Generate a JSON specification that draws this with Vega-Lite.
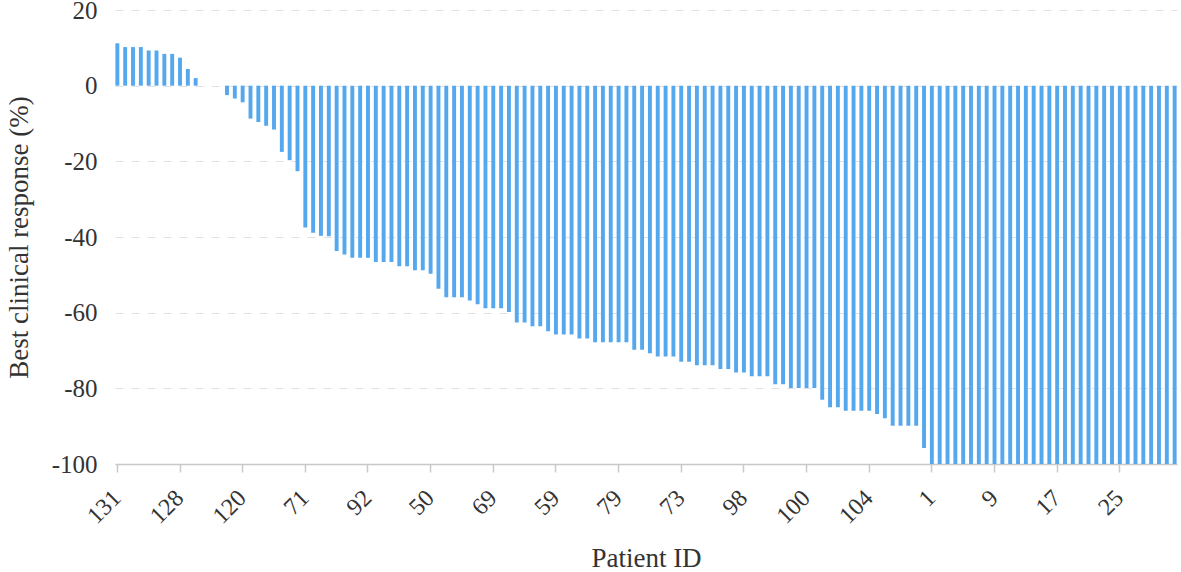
{
  "$schema": "https://vega.github.io/schema/vega-lite/v6.json",
  "width": 1062,
  "height": 454,
  "autosize": "none",
  "padding": {"left": 115, "top": 10, "right": 4, "bottom": 108},
  "background": "white",
  "config": {
    "view": {"stroke": null},
    "font": "Liberation Serif",
    "axis": {"labelFont": "Liberation Serif", "titleFont": "Liberation Serif"}
  },
  "data": {
    "values": [
      {"id": "131", "value": 11.2}, {"id": "136", "value": 10.2}, {"id": "135", "value": 10.2}, {"id": "134", "value": 10.2},
      {"id": "133", "value": 9.3}, {"id": "132", "value": 9.3}, {"id": "130", "value": 8.4}, {"id": "129", "value": 8.4},
      {"id": "128", "value": 7.4}, {"id": "127", "value": 4.4}, {"id": "126", "value": 2}, {"id": "125", "value": 0},
      {"id": "124", "value": 0}, {"id": "123", "value": 0}, {"id": "122", "value": -2.5}, {"id": "121", "value": -3.4},
      {"id": "120", "value": -4.4}, {"id": "119", "value": -8.7}, {"id": "118", "value": -9.6}, {"id": "117", "value": -10.6},
      {"id": "116", "value": -11.6}, {"id": "115", "value": -17.5}, {"id": "114", "value": -19.7}, {"id": "113", "value": -22.6},
      {"id": "71", "value": -37.5}, {"id": "33", "value": -38.9}, {"id": "34", "value": -39.7}, {"id": "35", "value": -39.8},
      {"id": "36", "value": -43.7}, {"id": "37", "value": -44.6}, {"id": "38", "value": -45.5}, {"id": "39", "value": -45.5},
      {"id": "92", "value": -45.5}, {"id": "40", "value": -46.6}, {"id": "41", "value": -46.6}, {"id": "42", "value": -46.6},
      {"id": "43", "value": -47.7}, {"id": "44", "value": -47.7}, {"id": "45", "value": -48.8}, {"id": "46", "value": -48.8},
      {"id": "50", "value": -49.7}, {"id": "47", "value": -53.7}, {"id": "48", "value": -55.9}, {"id": "49", "value": -55.9},
      {"id": "51", "value": -55.9}, {"id": "52", "value": -56.8}, {"id": "53", "value": -57.8}, {"id": "54", "value": -58.8},
      {"id": "69", "value": -58.8}, {"id": "55", "value": -58.8}, {"id": "56", "value": -59.8}, {"id": "57", "value": -62.6},
      {"id": "58", "value": -62.6}, {"id": "60", "value": -63.6}, {"id": "61", "value": -63.6}, {"id": "62", "value": -64.9},
      {"id": "59", "value": -65.8}, {"id": "63", "value": -65.8}, {"id": "64", "value": -65.8}, {"id": "65", "value": -66.8},
      {"id": "66", "value": -66.8}, {"id": "67", "value": -67.8}, {"id": "68", "value": -67.8}, {"id": "70", "value": -67.8},
      {"id": "79", "value": -67.8}, {"id": "72", "value": -67.8}, {"id": "74", "value": -69.8}, {"id": "75", "value": -69.8},
      {"id": "76", "value": -70.7}, {"id": "77", "value": -71.6}, {"id": "78", "value": -71.6}, {"id": "80", "value": -71.6},
      {"id": "73", "value": -73.0}, {"id": "81", "value": -73.0}, {"id": "82", "value": -73.9}, {"id": "83", "value": -73.9},
      {"id": "84", "value": -73.9}, {"id": "85", "value": -74.9}, {"id": "86", "value": -74.9}, {"id": "87", "value": -75.8},
      {"id": "98", "value": -75.8}, {"id": "88", "value": -76.8}, {"id": "89", "value": -76.8}, {"id": "90", "value": -76.8},
      {"id": "91", "value": -78.9}, {"id": "93", "value": -78.9}, {"id": "94", "value": -79.9}, {"id": "95", "value": -79.9},
      {"id": "100", "value": -79.9}, {"id": "96", "value": -79.9}, {"id": "97", "value": -83.0}, {"id": "99", "value": -85.0},
      {"id": "101", "value": -85.0}, {"id": "102", "value": -85.9}, {"id": "103", "value": -85.9}, {"id": "105", "value": -85.9},
      {"id": "104", "value": -85.9}, {"id": "106", "value": -86.8}, {"id": "107", "value": -87.9}, {"id": "108", "value": -89.9},
      {"id": "109", "value": -89.9}, {"id": "110", "value": -89.9}, {"id": "111", "value": -89.9}, {"id": "112", "value": -95.8},
      {"id": "1", "value": -100}, {"id": "2", "value": -100}, {"id": "3", "value": -100}, {"id": "4", "value": -100},
      {"id": "5", "value": -100}, {"id": "6", "value": -100}, {"id": "7", "value": -100}, {"id": "8", "value": -100},
      {"id": "9", "value": -100}, {"id": "10", "value": -100}, {"id": "11", "value": -100}, {"id": "12", "value": -100},
      {"id": "13", "value": -100}, {"id": "14", "value": -100}, {"id": "15", "value": -100}, {"id": "16", "value": -100},
      {"id": "17", "value": -100}, {"id": "18", "value": -100}, {"id": "19", "value": -100}, {"id": "20", "value": -100},
      {"id": "21", "value": -100}, {"id": "22", "value": -100}, {"id": "23", "value": -100}, {"id": "24", "value": -100},
      {"id": "25", "value": -100}, {"id": "26", "value": -100}, {"id": "27", "value": -100}, {"id": "28", "value": -100},
      {"id": "29", "value": -100}, {"id": "30", "value": -100}, {"id": "31", "value": -100}, {"id": "32", "value": -100}
    ]
  },
  "mark": {"type": "bar", "color": "#56a8ee"},
  "encoding": {
    "x": {
      "field": "id",
      "type": "ordinal",
      "sort": null,
      "scale": {"paddingInner": 0.5, "paddingOuter": 0.05},
      "axis": {
        "title": "Patient ID",
        "values": ["131", "128", "120", "71", "92", "50", "69", "59", "79", "73", "98", "100", "104", "1", "9", "17", "25"],
        "labelAngle": -45,
        "labelAlign": "right",
        "labelBaseline": "middle",
        "labelFont": "Liberation Serif",
        "labelFontSize": 24,
        "labelColor": "#333333",
        "labelPadding": 22,
        "tickSize": 8,
        "tickColor": "#c8c8c8",
        "tickWidth": 1.5,
        "domainColor": "#c8c8c8",
        "domainWidth": 1.5,
        "titleFont": "Liberation Serif",
        "titleFontSize": 27,
        "titleFontWeight": "normal",
        "titleColor": "#333333",
        "titlePadding": 18
      }
    },
    "y": {
      "field": "value",
      "type": "quantitative",
      "scale": {"domain": [-100, 20], "nice": false},
      "axis": {
        "title": "Best clinical response (%)",
        "values": [-100, -80, -60, -40, -20, 0, 20],
        "labelExpr": "toString(datum.value)",
        "domain": false,
        "ticks": false,
        "labelFont": "Liberation Serif",
        "labelFontSize": 25,
        "labelColor": "#333333",
        "labelPadding": 18,
        "labelDy": 3,
        "gridColor": "#e0e0e0",
        "gridDash": [8, 8],
        "gridWidth": 1,
        "titleFont": "Liberation Serif",
        "titleFontSize": 27,
        "titleFontWeight": "normal",
        "titleColor": "#333333",
        "titlePadding": 18
      }
    }
  }
}
